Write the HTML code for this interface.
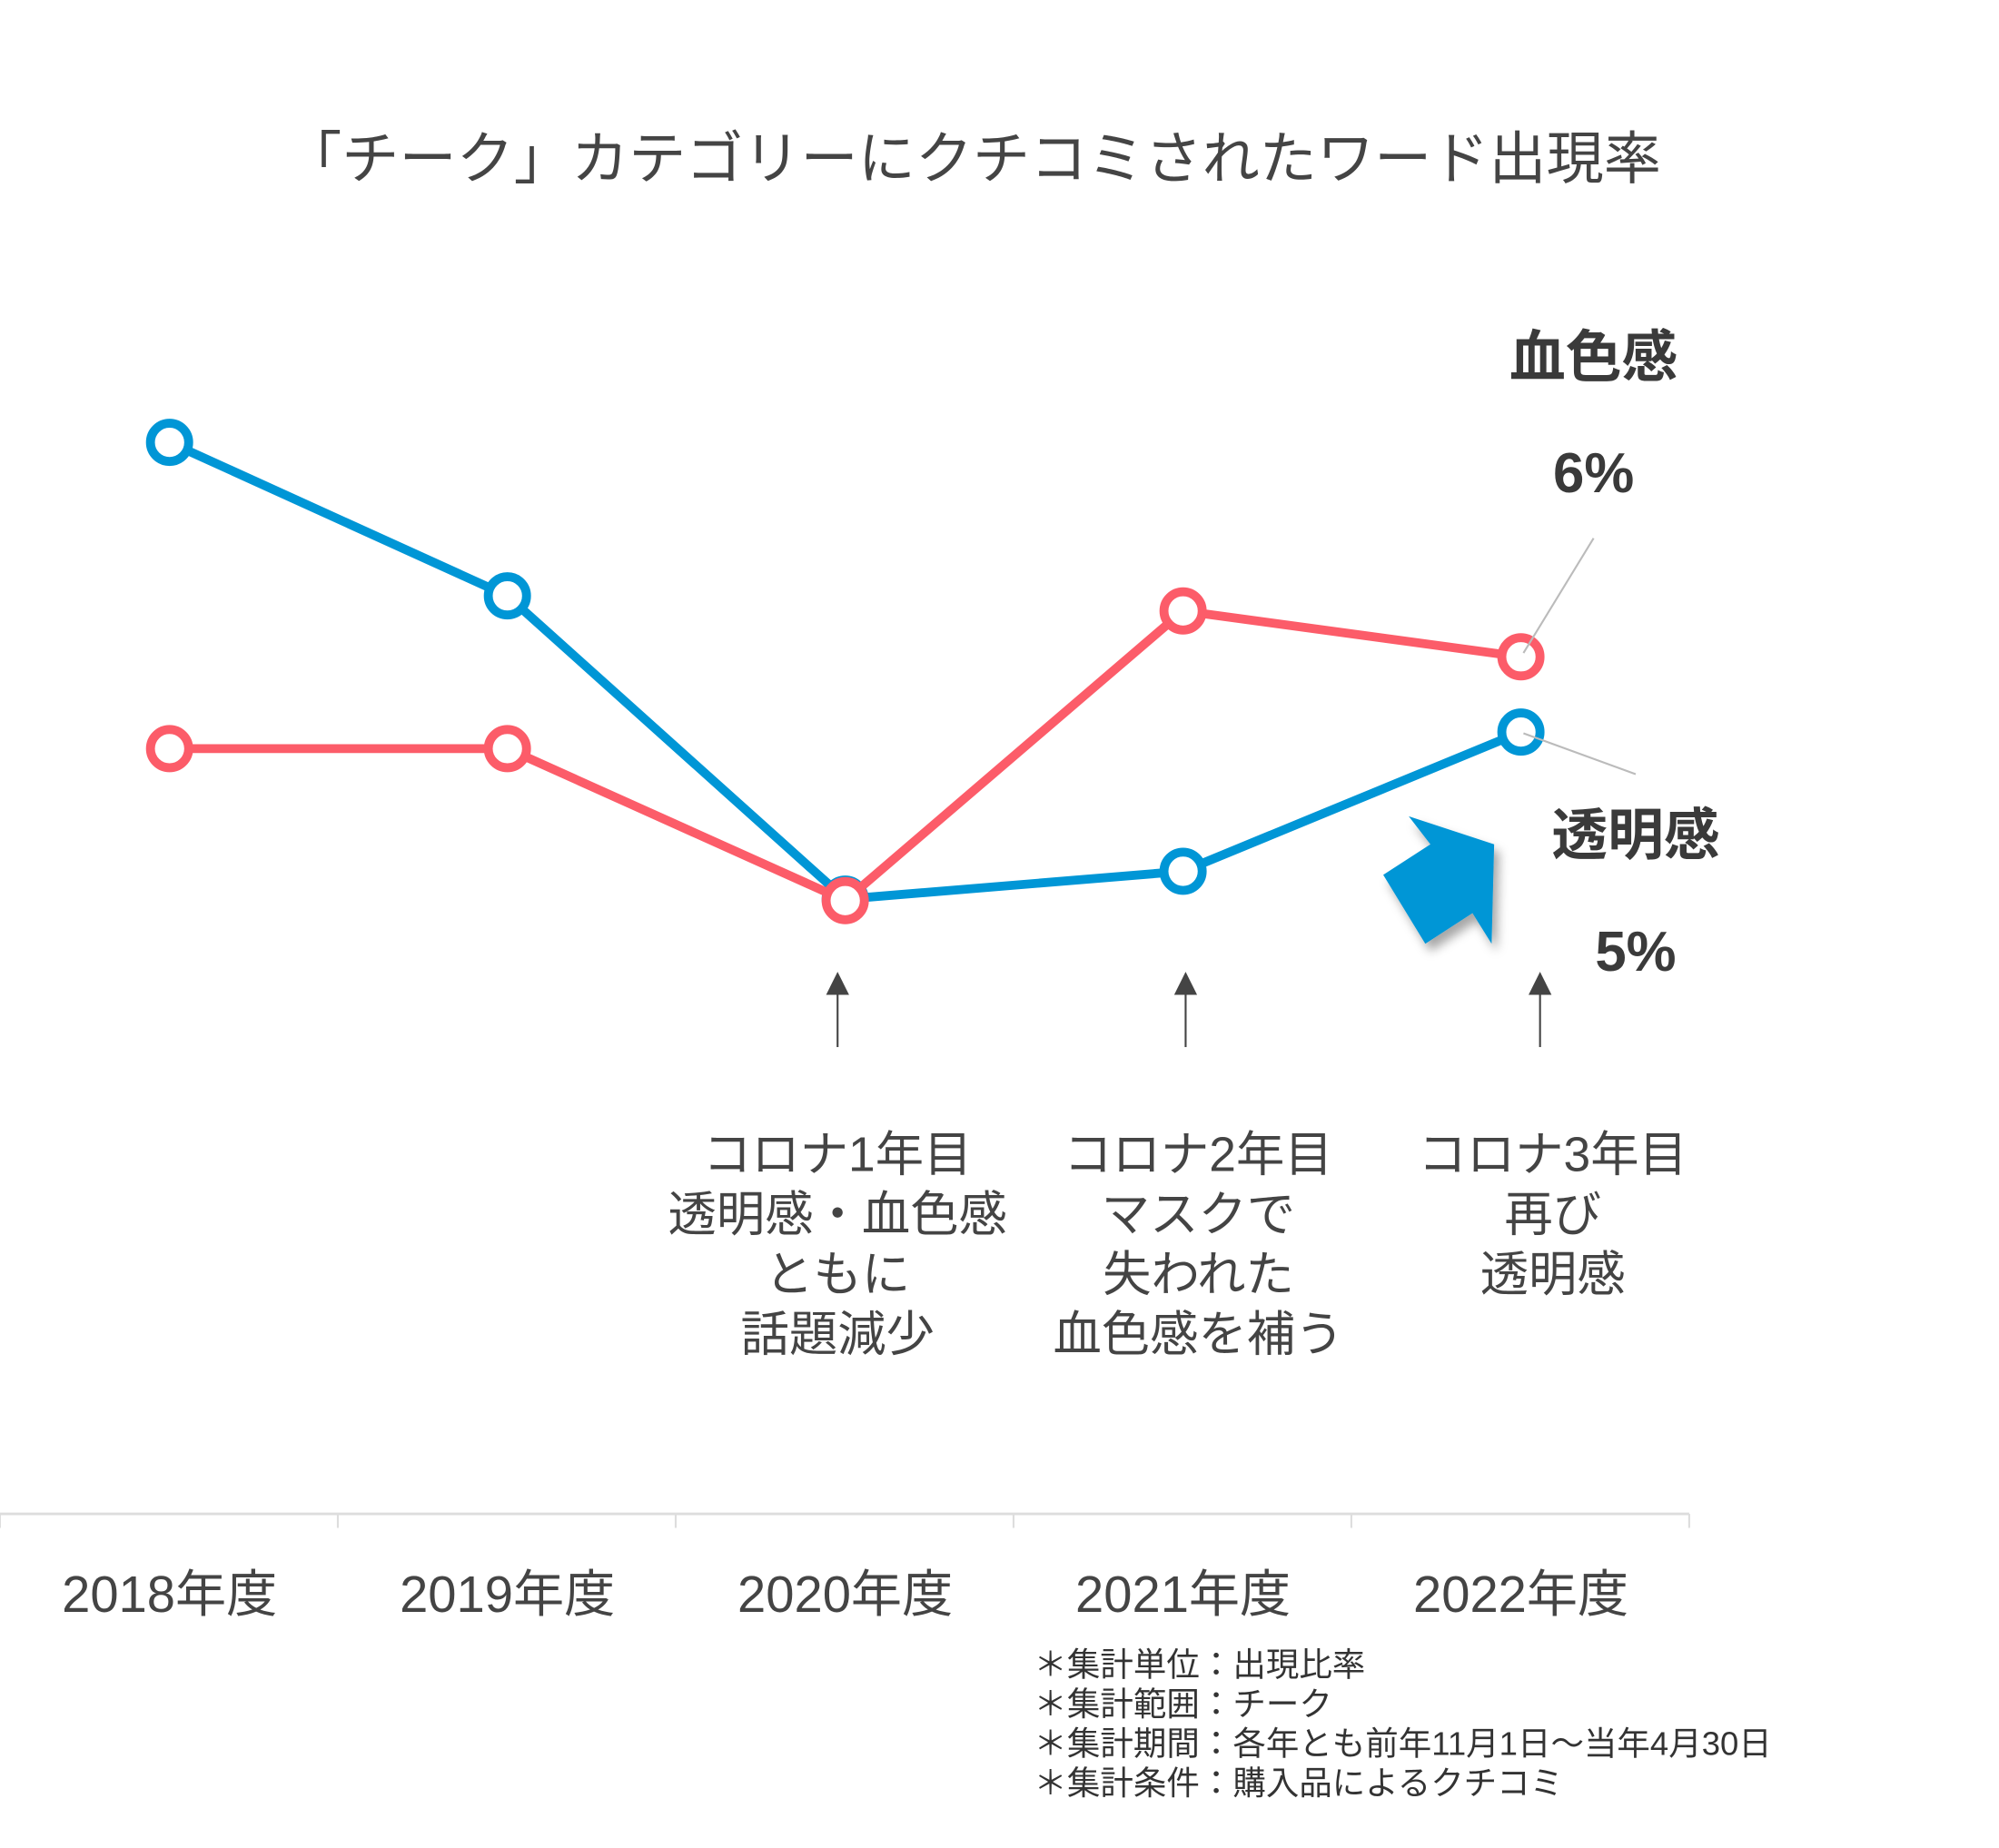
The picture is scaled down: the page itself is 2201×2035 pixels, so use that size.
<!DOCTYPE html>
<html><head><meta charset="utf-8"><style>
html,body{margin:0;padding:0;background:#fff;}
svg{display:block;font-family:"Liberation Sans","Noto Sans CJK JP",sans-serif;}
</style></head><body>
<svg id="chart" width="2201" height="2035" viewBox="0 0 1568 1449" preserveAspectRatio="none">
<defs><filter id="sh" x="-30%" y="-30%" width="160%" height="160%"><feDropShadow dx="4" dy="6" stdDeviation="4" flood-color="#000" flood-opacity="0.35"/></filter></defs>
<text x="763" y="140" text-anchor="middle" font-size="45" fill="#444">「チーク」カテゴリーにクチコミされたワード出現率</text>
<g id="axis"></g>
<g id="series"></g>
<g fill="#444" font-size="38" text-anchor="middle">
<g><path d="M657 762 L648 780 L666 780 Z"/><line x1="657" y1="778" x2="657" y2="821" stroke="#444" stroke-width="1.5"/></g>
<g><path d="M930 762 L921 780 L939 780 Z"/><line x1="930" y1="778" x2="930" y2="821" stroke="#444" stroke-width="1.5"/></g>
<g><path d="M1208 762 L1199 780 L1217 780 Z"/><line x1="1208" y1="778" x2="1208" y2="821" stroke="#444" stroke-width="1.5"/></g>
<text x="657" y="918"><tspan x="657">コロナ1年目</tspan><tspan x="657" dy="47">透明感・血色感</tspan><tspan x="657" dy="47">ともに</tspan><tspan x="657" dy="47">話題減少</tspan></text>
<text x="940" y="918"><tspan x="940">コロナ2年目</tspan><tspan x="940" dy="47">マスクで</tspan><tspan x="940" dy="47">失われた</tspan><tspan x="940" dy="47">血色感を補う</tspan></text>
<text x="1218" y="918"><tspan x="1218">コロナ3年目</tspan><tspan x="1218" dy="47">再び</tspan><tspan x="1218" dy="47">透明感</tspan></text>
</g>
<g font-weight="bold" font-size="44" fill="#3a3a3a" text-anchor="middle">
<text x="1250" y="295">血色感</text>
<text x="1250" y="386">6%</text>
<text x="1283" y="670">透明感</text>
<text x="1283" y="761">5%</text>
<line x1="1250" y1="422" x2="1195" y2="512" stroke="#bbb" stroke-width="1.5"/>
<line x1="1195" y1="575" x2="1283" y2="607" stroke="#bbb" stroke-width="1.5"/>
</g>
<path filter="url(#sh)" fill="#0096d6" d="M1105 640 L1172 662 L1170 740 L1155 716 L1118 740 L1085 686 L1122 662 Z"/>
<g font-size="26" fill="#333">
<text x="811" y="1314">＊集計単位：出現比率</text>
<text x="811" y="1345">＊集計範囲：チーク</text>
<text x="811" y="1376">＊集計期間：各年とも前年11月1日～当年4月30日</text>
<text x="811" y="1407">＊集計条件：購入品によるクチコミ</text>
</g>
</svg>
<script>
const categories = ["2018年度","2019年度","2020年度","2021年度","2022年度"];
const toumeikan = [8.85, 6.81, 2.78, 3.15, 5.0];
const kesshokukan = [4.78, 4.78, 2.76, 6.61, 6.0];
const NS = "http://www.w3.org/2000/svg";
function xPos(i){ return 133 + i * 265; }
function yPos(v){ return 869 - v * 59; }
const axis = document.getElementById('axis');
function mk(tag, attrs, parent){ const e = document.createElementNS(NS, tag); for (const k in attrs) e.setAttribute(k, attrs[k]); parent.appendChild(e); return e; }
mk('line', {x1:0, y1:1187, x2:1325, y2:1187, stroke:'#ddd', 'stroke-width':2}, axis);
for (let i = 0; i <= categories.length; i++) {
  const t = mk('line', {x1:i*265, y1:1187, x2:i*265, y2:1198, stroke:'#ddd', 'stroke-width':1.5}, axis);
  
  
}
categories.forEach((c, i) => {
  const t = mk('text', {x:xPos(i), y:1264, 'text-anchor':'middle', 'font-size':40, fill:'#444'}, axis);
  t.textContent = c;
  
  
});
const series = document.getElementById('series');
function drawSeries(vals, color, name){
  const g = mk('g', {}, series);
  
  
  const pl = mk('polyline', {points: vals.map((v,i)=>xPos(i)+','+yPos(v)).join(' '), fill:'none', stroke:color, 'stroke-width':7, 'stroke-linejoin':'round'}, g);
  
  
  return g;
}
const gb = drawSeries(toumeikan, '#0096d6', 'toumeikan');
const gr = drawSeries(kesshokukan, '#fc5c69', 'kesshokukan');
function drawPoints(vals, color, name, g){
  vals.forEach((v,i)=>{
    const c = mk('circle', {cx:xPos(i), cy:yPos(v), r:15, fill:'#fff', stroke:color, 'stroke-width':7}, g);
    
    
  });
}
drawPoints(toumeikan, '#0096d6', 'toumeikan', gb);
drawPoints(kesshokukan, '#fc5c69', 'kesshokukan', gr);
</script>
</body></html>
